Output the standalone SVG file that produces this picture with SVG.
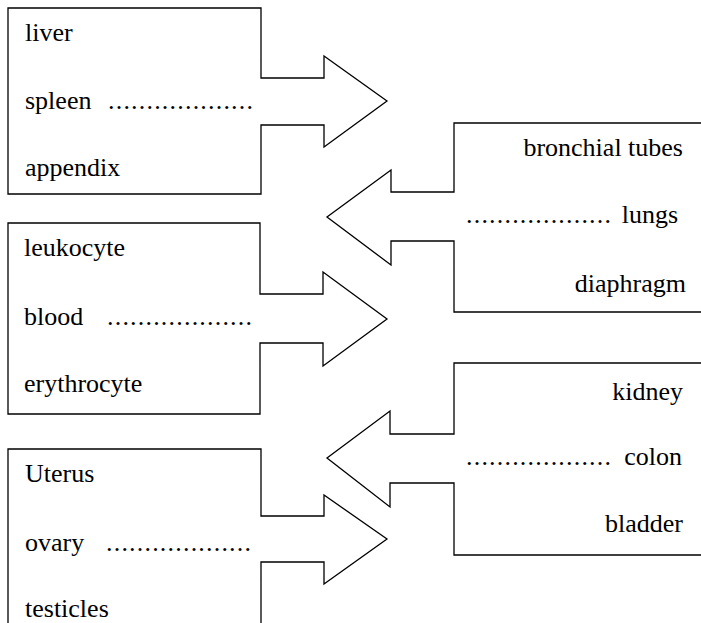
<svg xmlns="http://www.w3.org/2000/svg" width="701" height="623" viewBox="0 0 701 623">
<style>
.shape{fill:#ffffff;stroke:#000000;stroke-width:1.3;stroke-linejoin:miter}
.t{font-family:'Liberation Serif','Times New Roman',serif;font-size:26px;fill:#000000}
.e{text-anchor:end}
</style>
<rect x="0" y="0" width="701" height="623" fill="#ffffff"/>
<g id="connectors"/>
<g id="node-digestive">
<polygon class="shape" points="8,8 261,8 261,78 324,78 324,56 387,101 324,147 324,125 261,125 261,194 8,194"/>
<text class="t" x="25" y="41">liver</text>
<text class="t" x="25" y="109">spleen</text>
<text class="t" x="108" y="109" textLength="145" lengthAdjust="spacing">...................</text>
<text class="t" x="25" y="176">appendix</text>
</g>
<g id="node-respiratory">
<polygon class="shape" points="710,123 454,123 454,192 391,192 391,170 327,217 391,265 391,241 454,241 454,312 710,312"/>
<text class="t e" x="683" y="156">bronchial tubes</text>
<text class="t" x="466" y="223" textLength="145" lengthAdjust="spacing">...................</text>
<text class="t e" x="678" y="223">lungs</text>
<text class="t e" x="686" y="292">diaphragm</text>
</g>
<g id="node-blood">
<polygon class="shape" points="8,223 260,223 260,294 323,294 323,272 387,319 323,366 323,343 260,343 260,414 8,414"/>
<text class="t" x="24" y="256">leukocyte</text>
<text class="t" x="24" y="325">blood</text>
<text class="t" x="107" y="325" textLength="145" lengthAdjust="spacing">...................</text>
<text class="t" x="24" y="392">erythrocyte</text>
</g>
<g id="node-urinary">
<polygon class="shape" points="710,363 454,363 454,434 390,434 390,411 327,458 390,507 390,483 454,483 454,555 710,555"/>
<text class="t e" x="683" y="400">kidney</text>
<text class="t" x="466" y="465" textLength="145" lengthAdjust="spacing">...................</text>
<text class="t e" x="682" y="465">colon</text>
<text class="t e" x="683" y="532">bladder</text>
</g>
<g id="node-reproductive">
<polygon class="shape" points="8,630 8,449 261,449 261,516 324,516 324,495 387,539 324,584 324,562 261,562 261,630"/>
<text class="t" x="25" y="482">Uterus</text>
<text class="t" x="25" y="551">ovary</text>
<text class="t" x="106" y="551" textLength="145" lengthAdjust="spacing">...................</text>
<text class="t" x="25" y="617">testicles</text>
</g>
</svg>
